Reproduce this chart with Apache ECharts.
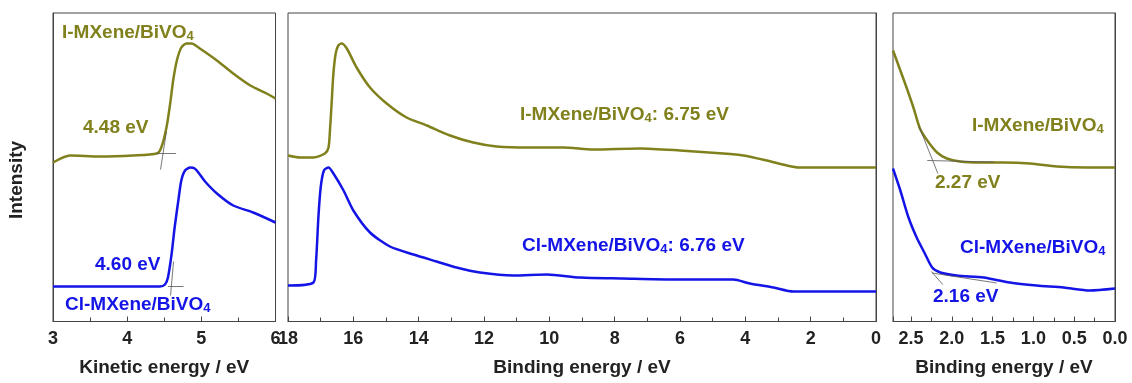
<!DOCTYPE html>
<html>
<head>
<meta charset="utf-8">
<script src="https://cdn.jsdelivr.net/npm/echarts@6/dist/echarts.min.js"></script>
<style>
  html, body { margin: 0; padding: 0; background: #fff; }
  #chart { width: 1132px; height: 383px; }
</style>
</head>
<body>
<div id="chart"></div>
<script>
// ---- data (intensity in arbitrary units) ----
// panel 1: secondary electron cutoff, kinetic energy (eV)
var keI   = [3.00, 3.23, 3.63, 4.08, 4.40, 4.46, 4.53, 4.58, 4.62, 4.67, 4.73, 4.80, 4.87, 4.98, 5.21, 5.43, 5.66, 5.88, 6.00];
var intKeI = [159, 166, 165, 166, 168, 174, 194, 218, 241, 261, 274, 278, 278, 273, 261, 248, 236, 228, 223];
var keCl  = [3.00, 4.44, 4.51, 4.55, 4.60, 4.64, 4.69, 4.73, 4.78, 4.85, 4.91, 4.97, 5.05, 5.21, 5.43, 5.70, 6.00];
var intKeCl = [35, 35, 37, 44, 68, 94, 121, 141, 151, 154, 153, 148, 140, 128, 116, 109, 99];

// panel 2: full UPS spectra, binding energy (eV)
var beI   = [18.0, 17.63, 17.22, 16.87, 16.76, 16.71, 16.66, 16.61, 16.54, 16.46, 16.36, 16.20, 15.90, 15.49, 14.98, 14.37, 13.75, 13.04, 12.33, 11.61, 10.59, 9.57, 8.65, 7.22, 6.00, 4.67, 4.06, 3.35, 2.73, 2.38, 0.0];
var intBeI = [166, 164, 164, 168, 174, 194, 221, 248, 268, 276, 278, 273, 254, 234, 218, 204, 196, 186, 179, 175, 174, 174, 172, 173, 171, 168, 166, 161, 156, 154, 154];
var beCl  = [18.0, 17.22, 17.14, 17.07, 17.00, 16.90, 16.76, 16.61, 16.30, 16.00, 15.49, 14.88, 14.16, 13.45, 12.84, 12.12, 11.10, 10.08, 9.06, 7.76, 6.22, 5.18, 4.37, 3.86, 3.14, 2.53, 2.12, 0.0];
var intBeCl = [36, 39, 61, 104, 134, 151, 154, 148, 131, 111, 89, 75, 67, 60, 54, 49, 46, 47, 44, 43, 42, 42, 42, 38, 34, 30, 30, 30];

// panel 3: valence band edge, binding energy (eV)
var vbI   = [2.72, 2.63, 2.55, 2.47, 2.39, 2.30, 2.18, 2.06, 1.90, 1.65, 1.37, 1.04, 0.71, 0.35, 0.0];
var intVbI = [271, 251, 233, 214, 193, 181, 169, 163, 160, 159, 159, 158, 155, 154, 154];
var vbCl  = [2.72, 2.63, 2.53, 2.43, 2.33, 2.24, 2.14, 1.94, 1.61, 1.29, 0.96, 0.63, 0.31, 0.0];
var intVbCl = [153, 131, 104, 84, 68, 54, 49, 46, 44, 39, 36, 34, 31, 33];

// tangent (extrapolation) lines, [x, intensity] end points
var tanKeI   = [[[4.40, 168], [4.66, 168]], [[4.45, 152], [4.53, 190]]];
var tanKeCl  = [[[4.55, 35], [4.76, 35]], [[4.585, 26], [4.625, 60]]];
var tanVbI   = [[[2.30, 161], [1.48, 159.5]], [[2.40, 195], [2.17, 148]]];
var tanVbCl  = [[[2.24, 48.5], [1.45, 38.5]], [[2.25, 50], [2.11, 37]]];

var OLIVE = '#80801c';
var BLUE = '#1414e6';
var FRAME = '#444';
var FONT = '"Liberation Sans", Arial, sans-serif';

function zip(xs, ys) {
    return xs.map(function (x, i) { return [x, ys[i]]; });
}

var chart = echarts.init(document.getElementById('chart'));

var grids = [
    { left: 53, top: 13, width: 222.5, height: 308.5 },
    { left: 288, top: 13, width: 588, height: 308.5 },
    { left: 893, top: 13, width: 222, height: 308.5 }
];

function xAxisOf(i, name, min, max, interval, inverse, digits) {
    return {
        type: 'value',
        gridIndex: i,
        min: min,
        max: max,
        interval: interval,
        inverse: inverse,
        name: name,
        nameLocation: 'middle',
        nameGap: 37,
        nameTextStyle: { fontFamily: FONT, fontWeight: 'bold', fontSize: 19, color: '#222' },
        axisLine: { lineStyle: { color: FRAME, width: 1 } },
        axisTick: { inside: true, length: 5, lineStyle: { color: FRAME } },
        minorTick: { show: true, splitNumber: 2, length: 4, lineStyle: { color: FRAME } },
        splitLine: { show: false },
        axisLabel: {
            margin: 9,
            fontFamily: FONT,
            fontWeight: 'bold',
            fontSize: 18,
            color: '#222',
            formatter: function (v) {
                var k = v / interval;
                if (Math.abs(k - Math.round(k)) > 1e-6) return '';
                return v.toFixed(digits);
            }
        }
    };
}

function yAxisOf(i) {
    return {
        type: 'value',
        gridIndex: i,
        min: 0,
        max: 308.5,
        axisLine: { show: true, lineStyle: { color: FRAME, width: 1 } },
        axisTick: { show: false },
        axisLabel: { show: false },
        splitLine: { show: false }
    };
}

function curve(i, xs, ys, color) {
    return {
        type: 'line',
        xAxisIndex: i,
        yAxisIndex: i,
        data: zip(xs, ys),
        smooth: 0.25,
        showSymbol: false,
        lineStyle: { color: color, width: 2.5 },
        animation: false
    };
}

function tangents(i, segs) {
    return segs.map(function (s) {
        return {
            type: 'line',
            xAxisIndex: i,
            yAxisIndex: i,
            data: s,
            showSymbol: false,
            z: 5,
            lineStyle: { color: '#555', width: 0.8 },
            animation: false
        };
    });
}

function tag(x, y, main, sub, tail, color) {
    var txt = '{a|' + main + '}' + (sub ? '{s|' + sub + '}' : '') + (tail ? '{a|' + tail + '}' : '');
    return {
        type: 'text',
        x: x,
        y: y,
        style: {
            text: txt,
            align: 'left',
            verticalAlign: 'middle',
            rich: {
                a: { fontFamily: FONT, fontWeight: 'bold', fontSize: 19, fill: color, color: color },
                s: { fontFamily: FONT, fontWeight: 'bold', fontSize: 13, fill: color, color: color, padding: [6, 0, 0, 0] }
            }
        }
    };
}

var option = {
    backgroundColor: '#fff',
    grid: grids.map(function (g) {
        return Object.assign({ show: true, borderColor: FRAME, borderWidth: 1, backgroundColor: 'transparent' }, g);
    }),
    xAxis: [
        xAxisOf(0, 'Kinetic energy / eV', 3, 6, 1, false, 0),
        xAxisOf(1, 'Binding energy / eV', 0, 18, 2, true, 0),
        xAxisOf(2, 'Binding energy / eV', 0, 2.72, 0.5, true, 1)
    ],
    yAxis: [yAxisOf(0), yAxisOf(1), yAxisOf(2)],
    series: [
        curve(0, keI, intKeI, OLIVE),
        curve(0, keCl, intKeCl, BLUE),
        curve(1, beI, intBeI, OLIVE),
        curve(1, beCl, intBeCl, BLUE),
        curve(2, vbI, intVbI, OLIVE),
        curve(2, vbCl, intVbCl, BLUE)
    ].concat(tangents(0, tanKeI), tangents(0, tanKeCl), tangents(2, tanVbI), tangents(2, tanVbCl)),
    graphic: [
        {
            type: 'text',
            x: 17,
            y: 180,
            rotation: Math.PI / 2,
            style: {
                text: 'Intensity',
                align: 'center',
                verticalAlign: 'middle',
                fontFamily: FONT,
                fontWeight: 'bold',
                fontSize: 19,
                fill: '#222'
            }
        },
        tag(62, 33, 'I-MXene/BiVO', '4', '', OLIVE),
        tag(83, 128, '4.48 eV', '', '', OLIVE),
        tag(95, 265, '4.60 eV', '', '', BLUE),
        tag(65, 305, 'Cl-MXene/BiVO', '4', '', BLUE),
        tag(520, 115, 'I-MXene/BiVO', '4', ': 6.75 eV', OLIVE),
        tag(522, 246, 'Cl-MXene/BiVO', '4', ': 6.76 eV', BLUE),
        tag(972, 126, 'I-MXene/BiVO', '4', '', OLIVE),
        tag(935, 183, '2.27 eV', '', '', OLIVE),
        tag(960, 248, 'Cl-MXene/BiVO', '4', '', BLUE),
        tag(933, 297, '2.16 eV', '', '', BLUE)
    ]
};

chart.setOption(option);
</script>
</body>
</html>
